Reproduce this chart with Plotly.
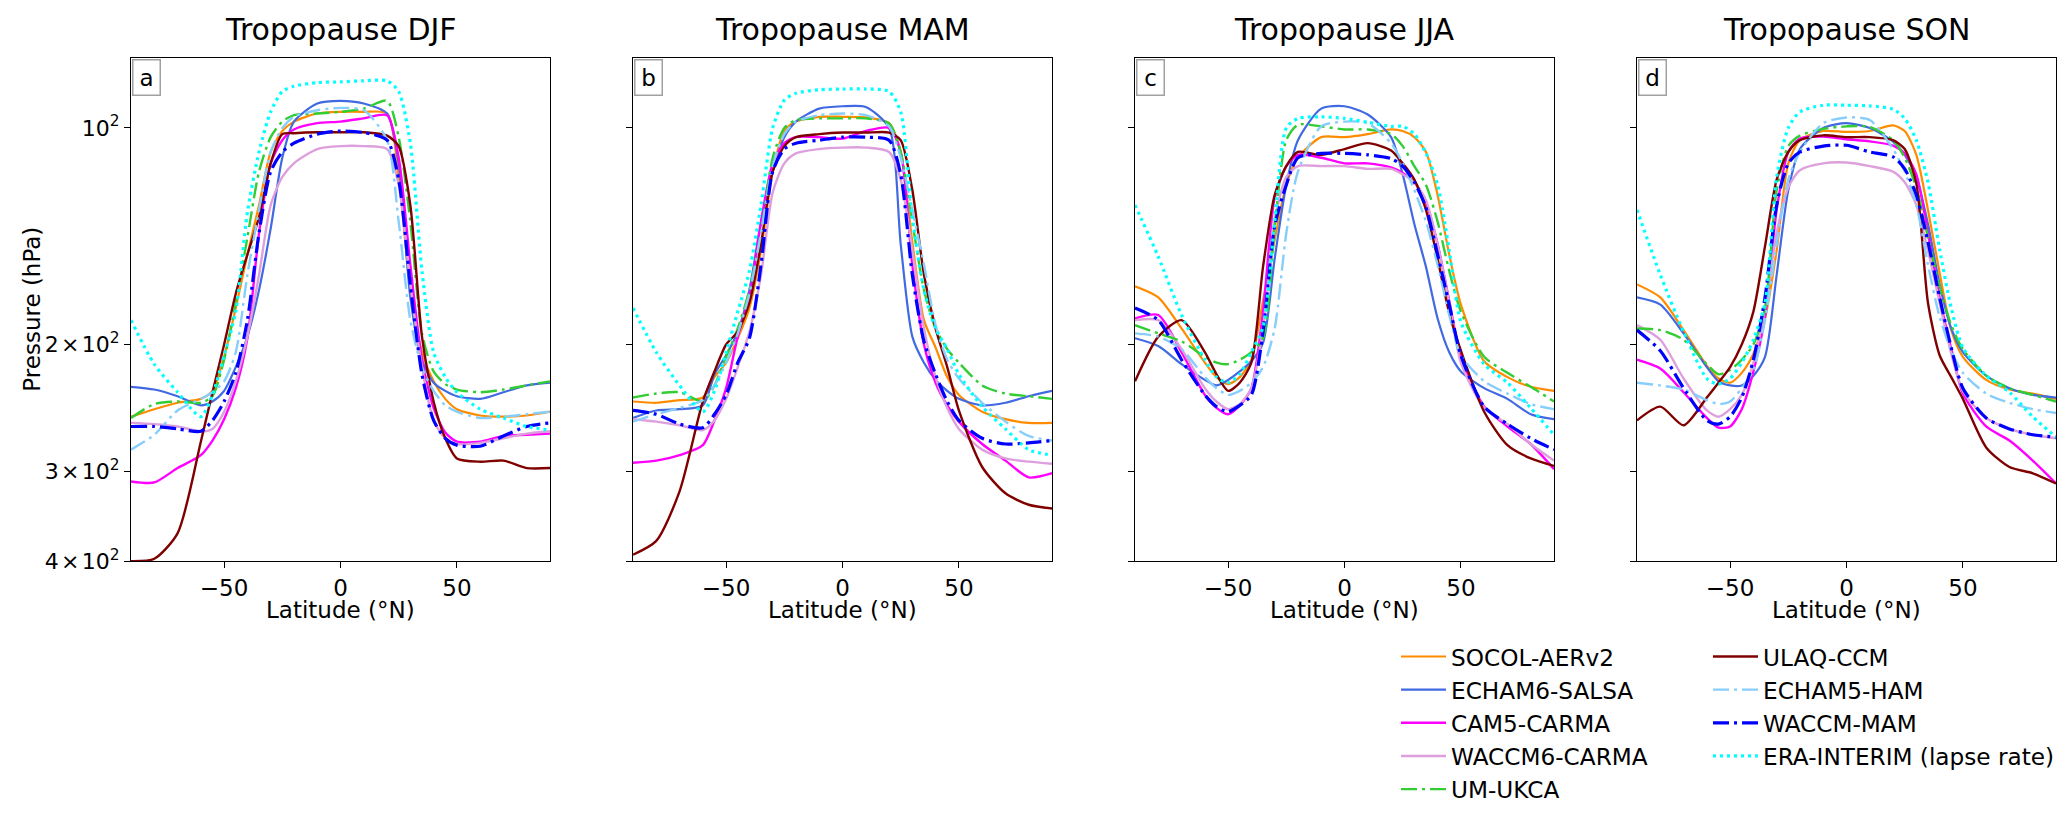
import math
import plotly.graph_objects as go

# latitude grid (deg N) shared by every curve
LAT = [-90, -80, -70, -60, -55, -50, -45, -40, -35, -30, -25, -20, -10,
       0, 10, 20, 25, 30, 35, 40, 45, 50, 60, 70, 80, 90]

# tropopause pressure (hPa), DJF
socol_djf = [252, 246, 241, 238, 232, 208, 178, 150, 128, 108, 101, 98, 95.5, 95, 95, 95.5, 117, 168, 205, 225, 238, 246, 251, 252, 251, 248]
echam6_djf = [229, 231, 236, 243, 240, 232, 215, 195, 168, 138, 110, 98, 92.5, 91.7, 92.5, 95.5, 112, 172, 210, 226, 232, 236, 238, 233, 228, 226]
cam5_djf = [310, 311, 297, 285, 272, 254, 230, 196, 140, 112, 104, 100.5, 98.5, 98, 97, 96, 110, 155, 210, 245, 265, 273, 273, 268, 267, 266]
waccm6_djf = [257, 258, 260, 264, 262, 248, 225, 195, 160, 128, 117, 112, 107, 106, 106, 107, 120, 165, 215, 255, 270, 275, 274, 270, 266, 264]
umukca_djf = [253, 242, 240, 241, 236, 210, 175, 142, 115, 103, 98, 96, 95.5, 95, 94, 91.7, 103, 135, 193, 218, 227, 231, 233, 231, 228, 225]
ulaq_djf = [400, 397, 366, 273, 233, 200, 170, 150, 133, 112, 102, 101.7, 101.4, 101.4, 101.4, 102.5, 106, 128, 195, 240, 270, 288, 291, 290, 297, 297]
wmam_djf = [260, 260, 262, 264, 255, 240, 219, 185, 140, 115, 108, 105, 102, 101, 101.5, 104, 118, 165, 220, 255, 270, 276, 277, 268, 260, 257]
echam5_djf = [280, 267, 247, 238, 233, 225, 205, 160, 130, 108, 100, 96.5, 94.5, 93.8, 94.5, 104, 135, 185, 215, 232, 243, 248, 253, 252, 250, 248]
era_djf = [185, 213, 233, 252, 235, 207, 180, 131, 108, 95, 89, 87.5, 86.5, 86.3, 86, 86, 89, 105, 158, 205, 222, 233, 246, 253, 260, 263]

# MAM
socol_mam = [240, 241, 239, 237, 222, 212, 196, 178, 148, 115, 101, 98, 96.5, 96.5, 96.7, 98.5, 108, 144, 185, 202, 222, 235, 248, 254, 257, 257]
echam6_mam = [253, 247, 246, 243, 220, 207, 192, 168, 135, 115, 103, 98, 94, 93.3, 93.5, 100, 145, 195, 212, 224, 232, 238, 243, 241, 236, 232]
cam5_mam = [292, 290, 285, 276, 255, 230, 195, 172, 135, 112, 105, 103, 103, 103.5, 101, 100, 108, 155, 200, 226, 243, 256, 275, 290, 306, 302]
waccm6_mam = [254, 256, 259, 263, 255, 238, 215, 192, 160, 123, 112, 108.5, 107, 106.5, 106.5, 108, 118, 148, 190, 222, 245, 262, 280, 288, 291, 293]
umukca_mam = [237, 234, 233, 240, 228, 208, 190, 168, 140, 110, 100, 97.5, 97, 97, 97, 98.6, 108, 135, 168, 190, 203, 212, 228, 234, 236, 238]
ulaq_mam = [392, 375, 320, 240, 218, 200, 192, 175, 145, 115, 106, 103, 102, 101.5, 101.5, 101.5, 104, 122, 160, 190, 215, 247, 296, 322, 334, 338]
wmam_mam = [247, 250, 258, 261, 250, 235, 212, 196, 155, 115, 107, 105, 104, 103, 103, 104, 116, 160, 198, 220, 240, 255, 270, 275, 274, 272]
echam5_mam = [256, 250, 245, 239, 228, 212, 193, 170, 140, 113, 102, 98, 96, 95.5, 96, 99.5, 110, 130, 155, 188, 210, 223, 241, 256, 268, 272]
era_mam = [178, 205, 228, 248, 232, 205, 180, 158, 128, 100, 91.5, 89.5, 88.5, 88.3, 88.3, 89, 95, 133, 168, 190, 203, 220, 244, 262, 280, 285]

# JJA
socol_jja = [166, 172, 190, 212, 222, 227, 222, 210, 174, 143, 120, 110, 103, 103, 102, 100.5, 101, 103, 108, 124, 150, 176, 211, 222, 229, 232]
echam6_jja = [196, 201, 213, 224, 228, 224, 218, 211, 199, 152, 120, 104, 94, 93.3, 95.8, 103, 116, 136, 156, 184, 205, 218, 230, 238, 250, 254]
cam5_jja = [184, 182, 205, 235, 245, 250, 243, 230, 180, 125, 113, 109, 110, 112, 112, 113.5, 115.5, 119, 127, 145, 174, 208, 244, 260, 275, 298]
waccm6_jja = [185, 185, 203, 230, 240, 246, 242, 230, 190, 135, 117, 113, 113, 113, 114, 114, 116, 119, 126, 145, 175, 212, 245, 258, 275, 290]
umukca_jja = [188, 193, 198, 208, 212, 213, 210, 205, 196, 137, 104, 99, 99.5, 100.5, 100.5, 102, 106, 113, 120, 135, 158, 180, 208, 219, 229, 240]
ulaq_jja = [225, 195, 185, 205, 220, 232, 226, 212, 156, 124, 113, 108, 109, 107, 105, 107.5, 112, 118, 130, 152, 181, 204, 248, 276, 288, 295]
wmam_jja = [178, 185, 210, 235, 244, 248, 243, 235, 192, 137, 120, 110, 108.5, 108.5, 109, 110.3, 113, 119, 129, 150, 176, 207, 244, 258, 270, 280]
echam5_jja = [193, 195, 203, 222, 230, 235, 232, 226, 215, 190, 140, 115, 99.5, 98, 98.5, 105, 112, 122, 135, 155, 182, 207, 225, 234, 242, 246]
era_jja = [128, 151, 182, 210, 222, 226, 220, 205, 189, 135, 100, 97, 96.5, 97, 98.2, 99.5, 99.5, 102, 108.4, 120, 148, 186, 213, 226, 245, 267]

# SON
socol_son = [165, 172, 191, 214, 223, 226, 219, 206, 184, 148, 112, 104, 101, 101.3, 101, 99.2, 101, 109, 130, 159, 191, 208, 224, 231, 234, 238]
echam6_son = [172, 176, 193, 215, 225, 228, 228, 221, 208, 160, 122, 107, 100, 98.5, 100, 104.5, 109, 117, 136, 165, 190, 205, 221, 230, 235, 237]
cam5_son = [210, 216, 233, 253, 261, 260, 246, 218, 183, 130, 108, 103.5, 102.8, 103.7, 104.4, 105.8, 108.5, 116, 140, 172, 203, 234, 260, 272, 290, 312]
waccm6_son = [188, 197, 223, 247, 252, 246, 235, 212, 178, 140, 121, 114.5, 112, 111.7, 113, 115, 119, 128, 148, 175, 206, 232, 253, 262, 267, 270]
umukca_son = [190, 191, 197, 213, 220, 217, 210, 200, 178, 122, 106, 102.5, 100.3, 99.5, 99.7, 104, 110, 121, 142, 166, 188, 203, 221, 230, 235, 240]
ulaq_son = [255, 244, 259, 237, 226, 215, 200, 180, 146, 118, 108, 104, 102.4, 103, 103, 104, 107, 119.5, 175, 207, 222, 238, 278, 296, 302, 312]
wmam_son = [191, 204, 230, 255, 258, 252, 237, 210, 172, 128, 112, 108, 106, 105.7, 108, 109.7, 114, 124, 144, 172, 202, 230, 253, 262, 267, 269]
echam5_son = [226, 228, 231, 239, 242, 240, 230, 217, 185, 145, 118, 108, 98.5, 96.7, 97.5, 107, 115, 128, 155, 183, 204, 219, 234, 241, 246, 249]
era_son = [130, 160, 192, 223, 227, 223, 212, 197, 175, 117, 100, 95, 93, 93, 93.2, 94.2, 97, 104, 119, 147.5, 178, 202, 221, 233, 252, 269]

SEASONS = ["DJF", "MAM", "JJA", "SON"]
PANEL_TAGS = ["a", "b", "c", "d"]

# name, colour, dash, width, legend column
MODELS = [
    ("SOCOL-AERv2", "darkorange", "solid", 2.2, "legend"),
    ("ECHAM6-SALSA", "royalblue", "solid", 2.2, "legend"),
    ("CAM5-CARMA", "magenta", "solid", 2.4, "legend"),
    ("WACCM6-CARMA", "plum", "solid", 2.4, "legend"),
    ("UM-UKCA", "limegreen", "16px,5px,3px,5px", 2.4, "legend"),
    ("ULAQ-CCM", "maroon", "solid", 2.4, "legend2"),
    ("ECHAM5-HAM", "lightskyblue", "16px,5px,3px,5px", 2.4, "legend2"),
    ("WACCM-MAM", "blue", "16px,5px,3px,5px", 3.2, "legend2"),
    ("ERA-INTERIM (lapse rate)", "cyan", "3px,4px", 3.2, "legend2"),
]

SERIES = {
    "DJF": [socol_djf, echam6_djf, cam5_djf, waccm6_djf, umukca_djf, ulaq_djf, echam5_djf, wmam_djf, era_djf],
    "MAM": [socol_mam, echam6_mam, cam5_mam, waccm6_mam, umukca_mam, ulaq_mam, echam5_mam, wmam_mam, era_mam],
    "JJA": [socol_jja, echam6_jja, cam5_jja, waccm6_jja, umukca_jja, ulaq_jja, echam5_jja, wmam_jja, era_jja],
    "SON": [socol_son, echam6_son, cam5_son, waccm6_son, umukca_son, ulaq_son, echam5_son, wmam_son, era_son],
}

W, H = 2067, 820
PANEL_LEFT = [123, 625, 1127, 1629]
PANEL_W = 419
TOP, BOTTOM = 51, 562
FONT = "DejaVu Sans"
HAIR = "\u200a"


def fx(px):
    return px / W


def fy(px):
    return 1 - px / H


fig = go.Figure()

for i, season in enumerate(SEASONS):
    sfx = "" if i == 0 else str(i + 1)
    for (name, color, dash, width, leg), vals in zip(MODELS, SERIES[season]):
        fig.add_trace(go.Scatter(
            x=LAT, y=vals, mode="lines", name=name,
            line=dict(color=color, width=width, dash=dash, shape="spline", smoothing=0.7),
            xaxis="x" + sfx, yaxis="y" + sfx,
            showlegend=(i == 0), legend=leg,
        ))

    left = PANEL_LEFT[i]
    fig.layout["xaxis" + sfx] = dict(
        domain=[fx(left), fx(left + PANEL_W)], anchor="y" + sfx,
        range=[-90, 90], tickvals=[-50, 0, 50], ticktext=["\u221250", "0", "50"],
        showline=True, linecolor="black", linewidth=1.3, mirror=True,
        ticks="outside", ticklen=6, tickwidth=1.3, tickcolor="black",
        showgrid=False, zeroline=False, tickfont=dict(size=23, color="black"),
    )
    fig.layout["yaxis" + sfx] = dict(
        domain=[fy(BOTTOM), fy(TOP)], anchor="x" + sfx, type="log",
        range=[math.log10(400), math.log10(80)],
        tickvals=[100, 200, 300, 400],
        ticktext=["10<sup>2</sup>"] + [f"{k}{HAIR}\u00d7{HAIR}10<sup>2</sup>" for k in (2, 3, 4)],
        showticklabels=(i == 0),
        showline=True, linecolor="black", linewidth=1.3, mirror=True,
        ticks="outside", ticklen=6, tickwidth=1.3, tickcolor="black",
        showgrid=False, zeroline=False, tickfont=dict(size=22, color="black"),
    )

    cx = fx(left + PANEL_W / 2)
    fig.add_annotation(text="Tropopause " + season, x=cx, y=fy(22), xref="paper", yref="paper",
                       showarrow=False, xanchor="center", yanchor="middle",
                       font=dict(size=30, color="black"))
    fig.add_annotation(text="Latitude (\u00b0N)", x=cx, y=fy(612), xref="paper", yref="paper",
                       showarrow=False, xanchor="center", yanchor="middle",
                       font=dict(size=23, color="black"))
    fig.add_annotation(text=PANEL_TAGS[i], x=fx(left + 1), y=fy(TOP + 1), xref="paper", yref="paper",
                       showarrow=False, xanchor="left", yanchor="top",
                       width=20, height=28, borderpad=3, borderwidth=1.5,
                       bordercolor="#a0a0a0", bgcolor="white",
                       font=dict(size=23, color="black"))

fig.add_annotation(text="Pressure (hPa)", x=fx(24), y=fy((TOP + BOTTOM) / 2), xref="paper", yref="paper",
                   showarrow=False, textangle=-90, xanchor="center", yanchor="middle",
                   font=dict(size=23, color="black"))

legend_style = dict(xanchor="left", yanchor="top", bgcolor="rgba(0,0,0,0)",
                    font=dict(size=23.2, color="black", family=FONT), itemwidth=45)

fig.update_layout(
    width=W, height=H,
    margin=dict(l=0, r=0, t=0, b=0),
    paper_bgcolor="white", plot_bgcolor="white",
    font=dict(family=FONT, color="black"),
    legend=dict(x=fx(1388), y=fy(637), **legend_style),
    legend2=dict(x=fx(1700), y=fy(637), **legend_style),
)

fig.write_html("out.html")
